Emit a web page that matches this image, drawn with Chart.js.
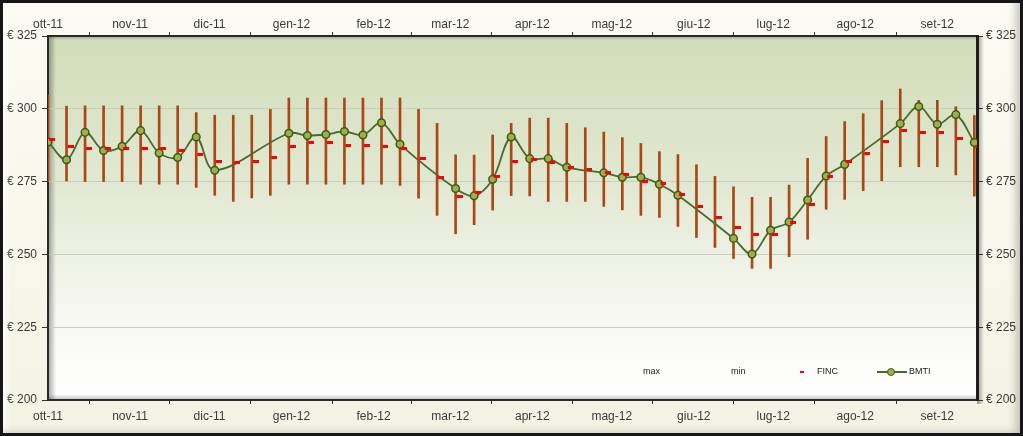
<!DOCTYPE html>
<html lang="it">
<head>
  <meta charset="UTF-8">
  <title>BMTI - FINC</title>
  <script src="https://cdn.jsdelivr.net/npm/chart.js"></script>
  <style>
    html, body { margin: 0; padding: 0; background: #fff; }
    .frame {
      position: relative;
      width: 1023px;
      height: 436px;
      background: linear-gradient(to bottom, #fbfbf3, #f3f3e4);
      overflow: hidden;
    }
    .frame:after {
      content: '';
      position: absolute;
      left: 0; top: 0; right: 0; bottom: 0;
      border: 3px solid #161616;
      box-shadow: inset -7px -3px 8px -3px rgba(0,0,0,0.22), inset 5px 3px 6px -2px rgba(255,255,255,0.9);
      pointer-events: none;
    }
    canvas { position: absolute; left: 0; top: 0; }
    /* legend sits inside the plot, bottom right */
    .lg { position: absolute; font: 9px Arial, "Liberation Sans", sans-serif; color: #222; line-height: 11px; }
    .finc-key { position: absolute; left: 800px; top: 371px; width: 4px; height: 2px; background: #ff0000; }
    .bmti-key { position: absolute; left: 877px; top: 371px; width: 30px; height: 2px; background: #4a6a2c; }
    .bmti-dot { position: absolute; left: 887px; top: 368px; width: 6px; height: 6px; border-radius: 50%;
                background: #9fb046; border: 1px solid #3d5a1e; }
  </style>
</head>
<body>
  <div class="frame">
    <canvas id="chart" width="1023" height="436"></canvas>
    <span class="lg" style="left:643px; top:366px;">max</span>
    <span class="lg" style="left:731px; top:366px;">min</span>
    <span class="finc-key"></span>
    <span class="lg" style="left:817px; top:366px;">FINC</span>
    <span class="bmti-key"></span>
    <span class="bmti-dot"></span>
    <span class="lg" style="left:909px; top:366px;">BMTI</span>
  </div>

  <script>
    // month axis (days counted from 1 Oct 2011)
    const monthDay = [0, 31, 61, 92, 123, 152, 183, 213, 244, 274, 305, 336];
    const monthLabels = ['ott-11', 'nov-11', 'dic-11', 'gen-12', 'feb-12', 'mar-12',
                         'apr-12', 'mag-12', 'giu-12', 'lug-12', 'ago-12', 'set-12'];

    // weekly quotations, day offset from 1 Oct 2011
    const weekDay = [0, 7, 14, 21, 28, 35, 42, 49, 56, 63, 70, 77, 84, 91, 98, 105, 112,
                     119, 126, 133, 140, 147, 154, 161, 168, 175, 182, 189, 196, 203, 210,
                     217, 224, 231, 238, 245, 252, 259, 266, 273, 280, 287, 294, 301, 308,
                     315, 322, 329, 336, 343, 350];

    const maxVal = [304.7, 300.9, 301.0, 301.0, 301.0, 301.0, 301.0, 301.0, 298.7, 297.8,
                    297.8, 297.8, 299.8, 303.7, 303.7, 303.7, 303.7, 303.7, 303.7, 303.7,
                    299.8, 295.0, 284.2, 284.1, 291.0, 295.0, 296.8, 296.8, 295.0, 293.5,
                    292.0, 290.1, 288.1, 285.3, 284.3, 280.8, 276.8, 273.2, 269.6, 269.6,
                    273.8, 283.0, 290.5, 295.6, 298.3, 302.8, 306.8, 302.9, 302.9, 300.7, 297.7];

    const minVal = [275.0, 275.2, 275.0, 275.0, 275.0, 274.1, 274.1, 274.1, 273.0, 270.3,
                    268.2, 269.4, 270.3, 274.1, 274.1, 274.1, 274.1, 274.1, 274.1, 273.7,
                    269.3, 263.4, 257.1, 260.2, 265.2, 270.2, 270.1, 268.2, 268.2, 268.2,
                    266.5, 265.3, 263.4, 262.7, 259.6, 255.8, 252.4, 248.6, 245.2, 245.2,
                    249.2, 255.2, 265.5, 268.9, 271.9, 275.3, 280.1, 280.1, 280.1, 277.3, 270.0];

    const finc = [289.5, 287.0, 286.4, 286.5, 286.4, 286.2, 286.2, 285.6, 284.4, 281.8,
                  281.5, 281.8, 283.3, 287.1, 288.3, 288.3, 287.4, 287.5, 287.2, 286.3,
                  283.0, 276.5, 270.0, 271.2, 276.6, 281.8, 282.6, 281.5, 280.0, 279.0,
                  278.1, 277.5, 275.2, 274.2, 270.4, 266.4, 262.7, 259.1, 256.7, 256.9,
                  261.1, 267.3, 276.8, 281.9, 284.5, 288.9, 292.6, 291.7, 291.7, 289.8, 287.1];

    const bmti = [288.6, 282.5, 291.9, 285.7, 287.1, 292.5, 284.8, 283.3, 290.3, 278.9,
                  null, null, null, 291.6, 290.8, 291.2, 292.2, 291.0, 295.2, 287.8,
                  null, null, 272.6, 270.1, 275.8, 290.3, 282.9, 282.9, 279.9, null,
                  278.0, 276.5, 276.5, 274.1, 270.3, null, null, 255.5, 250.1, 258.3,
                  261.1, 268.7, 276.9, 280.9, null, null, 294.9, 300.8, 294.7, 298.0, 288.4];

    // small red dash drawn just right of the bar
    const dash = document.createElement('canvas');
    dash.width = 14;
    dash.height = 3;
    const dctx = dash.getContext('2d');
    dctx.fillStyle = '#ff0000';
    dctx.fillRect(8, 0, 6, 3);

    const font = { family: 'Arial, "Liberation Sans", sans-serif', size: 12 };

    // plot background gradient and 3D shadows
    const plotBg = {
      id: 'plotBg',
      beforeDraw(chart) {
        const { ctx, chartArea: a } = chart;
        ctx.save();
        const g = ctx.createLinearGradient(0, a.top, 0, a.bottom);
        g.addColorStop(0, '#d1ddb9');
        g.addColorStop(0.4, '#e1e8d1');
        g.addColorStop(0.7, '#f3f5ec');
        g.addColorStop(1, '#ffffff');
        ctx.fillStyle = g;
        ctx.fillRect(a.left, a.top, a.right - a.left, a.bottom - a.top);

        let s = ctx.createLinearGradient(a.left, 0, a.left + 8, 0);
        s.addColorStop(0, 'rgba(0,0,0,0.35)');
        s.addColorStop(1, 'rgba(0,0,0,0)');
        ctx.fillStyle = s;
        ctx.fillRect(a.left, a.top, 8, a.bottom - a.top);

        s = ctx.createLinearGradient(0, a.top, 0, a.top + 4);
        s.addColorStop(0, 'rgba(0,0,0,0.25)');
        s.addColorStop(1, 'rgba(0,0,0,0)');
        ctx.fillStyle = s;
        ctx.fillRect(a.left, a.top, a.right - a.left, 4);

        s = ctx.createLinearGradient(0, a.bottom, 0, a.bottom - 6);
        s.addColorStop(0, 'rgba(0,0,0,0.25)');
        s.addColorStop(1, 'rgba(0,0,0,0)');
        ctx.fillStyle = s;
        ctx.fillRect(a.left, a.bottom - 6, a.right - a.left, 6);

        s = ctx.createLinearGradient(a.right, 0, a.right + 7, 0);
        s.addColorStop(0, 'rgba(0,0,0,0.4)');
        s.addColorStop(1, 'rgba(0,0,0,0)');
        ctx.fillStyle = s;
        ctx.fillRect(a.right, a.top, 7, a.bottom - a.top + 4);
        ctx.restore();
      }
    };

    function monthAxis(pos) {
      return {
        type: 'linear',
        position: pos,
        min: 0,
        max: 351,
        offset: false,
        afterBuildTicks: s => { s.ticks = monthDay.map(v => ({ value: v })); },
        afterFit: s => { s.height = 36; },
        ticks: {
          autoSkip: false,
          maxRotation: 0,
          padding: pos === 'top' ? 0 : 5,
          color: '#3a3a3a',
          font: font,
          callback: v => monthLabels[monthDay.indexOf(v)]
        },
        grid: { drawOnChartArea: false, drawTicks: true, tickLength: 4, color: '#333' },
        border: { color: '#2a2a2a', width: 2 }
      };
    }

    const euroTick = v => '€ ' + v;

    new Chart(document.getElementById('chart'), {
      type: 'bar',
      data: {
        datasets: [
          {
            type: 'line',
            label: 'FINC',
            data: weekDay.map((d, i) => ({ x: d, y: finc[i] })),
            showLine: false,
            pointStyle: dash,
            pointRadius: 4,
            order: 0
          },
          {
            type: 'line',
            label: 'BMTI',
            data: weekDay.map((d, i) => ({ x: d, y: bmti[i] })),
            borderColor: '#4a6a2c',
            borderWidth: 1.8,
            tension: 0.35,
            spanGaps: true,
            pointRadius: 3.8,
            pointBackgroundColor: '#9fb046',
            pointBorderColor: '#3d5a1e',
            pointBorderWidth: 1.5,
            order: 1
          },
          {
            type: 'bar',
            label: 'max-min',
            data: weekDay.map((d, i) => ({ x: d, y: [minVal[i], maxVal[i]] })),
            backgroundColor: '#a94816',
            barThickness: 2,
            order: 2
          }
        ]
      },
      options: {
        responsive: false,
        animation: false,
        layout: { padding: 0 },
        plugins: {
          legend: { display: false },
          tooltip: { enabled: false }
        },
        scales: {
          x: monthAxis('bottom'),
          x2: monthAxis('top'),
          y: {
            position: 'left',
            min: 200,
            max: 325,
            afterFit: s => { s.width = 48; },
            ticks: { stepSize: 25, padding: 5, color: '#3a3a3a', font: font, callback: euroTick },
            grid: { color: '#c9cfbf', tickLength: 6, tickColor: '#333' },
            border: { color: '#2a2a2a', width: 2 }
          },
          y2: {
            position: 'right',
            min: 200,
            max: 325,
            afterFit: s => { s.width = 46; },
            ticks: { stepSize: 25, padding: 3, color: '#3a3a3a', font: font, callback: euroTick },
            grid: { drawOnChartArea: false, tickLength: 6, color: '#333' },
            border: { color: '#1e1e1e', width: 3 }
          }
        }
      },
      plugins: [plotBg]
    });
  </script>
</body>
</html>
